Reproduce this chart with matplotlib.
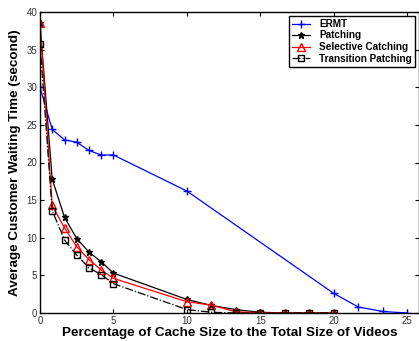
import matplotlib
matplotlib.use('Agg')
import matplotlib.pyplot as plt
import numpy as np

plt.rcParams['font.family'] = ['Liberation Sans', 'DejaVu Sans']

# cache size (% of total video size)
x_ermt = [0, 0.83, 1.67, 2.5, 3.33, 4.17, 5, 10, 20, 21.67, 23.33, 25]
y_ermt = [30, 24.4, 23.0, 22.7, 21.6, 21.0, 21.0, 16.2, 2.6, 0.8, 0.2, 0.0]

x_other = [0, 0.83, 1.67, 2.5, 3.33, 4.17, 5, 10, 11.67, 13.33, 15, 16.67, 18.33, 20]
y_patch = [38.5, 17.8, 12.7, 9.9, 8.1, 6.8, 5.3, 1.8, 1.0, 0.45, 0.1, 0.0, 0.0, 0.0]
y_select = [38.5, 14.3, 11.3, 8.8, 7.1, 5.7, 4.6, 1.5, 1.05, 0.15, 0.05, 0.0, 0.0, 0.0]
y_trans = [35.8, 13.6, 9.7, 7.7, 6.0, 5.1, 3.9, 0.45, 0.1, 0.0, 0.0, 0.0, 0.0, 0.0]

fig = plt.figure(figsize=(4.19, 3.41), dpi=100)
ax = fig.add_axes([40 / 419, 28 / 341, 379 / 419, 301 / 341])

ax.plot(x_ermt, y_ermt, color='blue', marker='+', markersize=6, lw=0.9, label='ERMT')
ax.plot(x_other, y_patch, color='black', marker='*', markersize=5, lw=0.9, label='Patching')
ax.plot(x_other, y_select, color='red', marker='^', markersize=6, mfc='none', lw=0.9,
        label='Selective Catching')
ax.plot(x_other, y_trans, color='black', marker='s', markersize=5, mfc='none', lw=0.9,
        ls='-.', label='Transition Patching')

ax.set_xlim(0, 25.8)
ax.set_ylim(0, 40)
ax.set_xticks([0, 5, 10, 15, 20, 25])
ax.set_yticks([0, 5, 10, 15, 20, 25, 30, 35, 40])
ax.tick_params(direction='in', top=True, right=True, labelsize=7, length=3, pad=2,
               labelcolor='#333333')
for s in ax.spines.values():
    s.set_linewidth(1.0)

ax.set_xlabel('Percentage of Cache Size to the Total Size of Videos', fontsize=9.7,
              fontweight='bold', labelpad=1)
ax.set_ylabel('Average Customer Waiting Time (second)', fontsize=9.7,
              fontweight='bold', labelpad=4)

leg = ax.legend(loc='upper right', prop={'size': 7.2, 'weight': 'bold'}, fancybox=False,
                edgecolor='black', framealpha=1, borderpad=0.3, labelspacing=0.15,
                handlelength=1.8, handletextpad=0.9, borderaxespad=0.4)
leg.get_frame().set_linewidth(1.0)

fig.savefig('out.png', dpi=100)
